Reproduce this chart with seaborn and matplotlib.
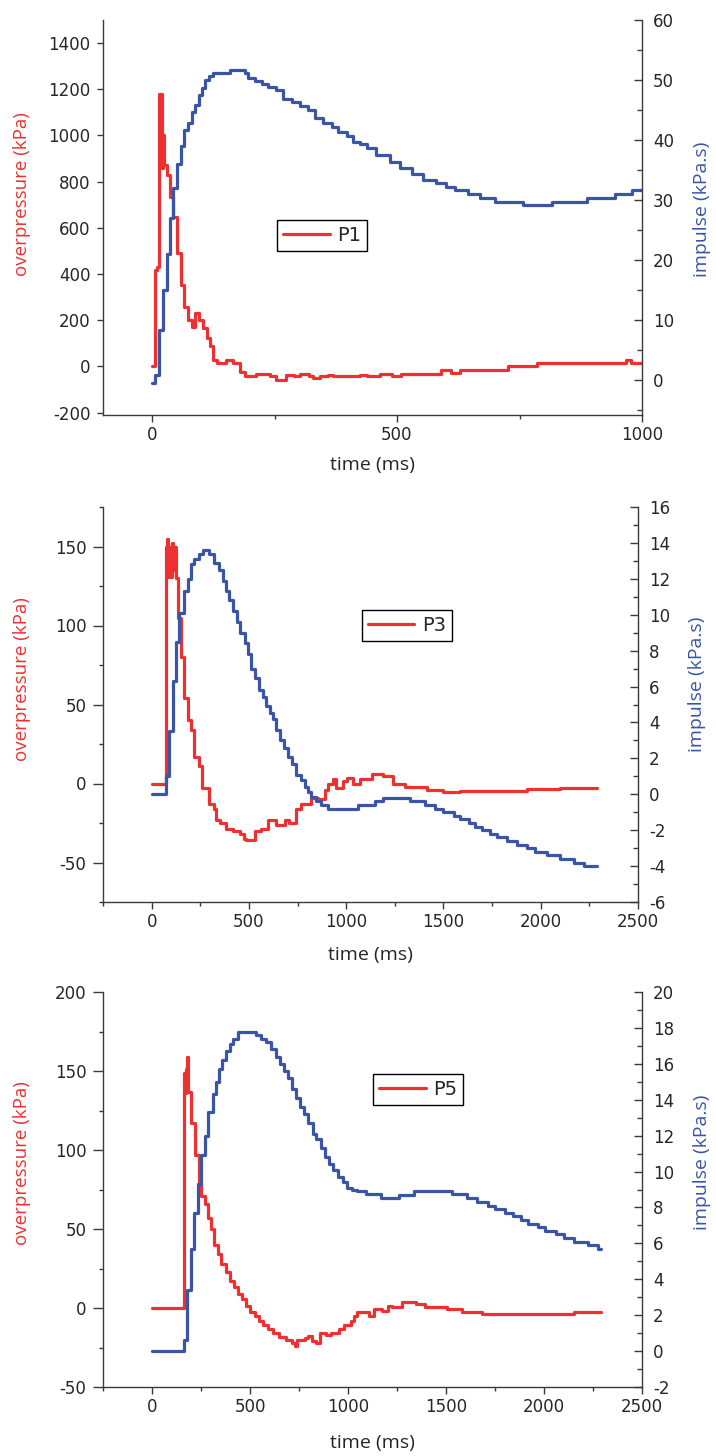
import seaborn as sns
import matplotlib.pyplot as plt
from matplotlib.ticker import MultipleLocator

sns.set_style('ticks')
plt.rcParams['font.family'] = ['DejaVu Sans']
plt.rcParams['axes.unicode_minus'] = False

RED = '#ee3030'
BLUE = '#3a55a6'
SPINE = '#3a3a3a'

# ---- P1: overpressure (kPa) and impulse (kPa.s) vs time (ms) ----
t1_p = [0, 6, 10, 15, 20, 22, 25, 30, 36, 42, 50, 59, 66, 74, 81, 88, 96, 105, 112, 119,
        125, 132, 152, 166, 180, 190, 213, 240, 254, 274, 290, 302, 320, 329, 343, 360, 370, 424, 438, 465,
        489, 509, 590, 611, 628, 727, 785, 968, 978, 1000]
p1 = [0, 418, 430, 1178, 860, 1004, 873, 830, 733, 649, 490, 353, 259, 202, 173, 231, 202, 166, 123, 87,
      29, 14, 29, 14, -22, -43, -33, -43, -58, -36, -43, -33, -43, -50, -43, -36, -43, -36, -43, -33,
      -43, -33, -14, -29, -14, 0, 14, 29, 14, 14]
t1_i = [0, 7, 14, 23, 30, 37, 43, 50, 59, 66, 73, 81, 88, 96, 103, 109, 117, 125, 159, 190,
        196, 210, 224, 237, 254, 268, 285, 302, 319, 332, 349, 367, 380, 397, 411, 424, 438, 458, 485, 506,
        530, 553, 580, 601, 618, 645, 669, 700, 758, 816, 887, 945, 979, 1000]
i1 = [-0.4, 0.8, 8.3, 15, 21, 27, 32, 36, 39, 41.6, 42.8, 44.6, 45.8, 47.5, 48.6, 50, 50.7, 51.1, 51.6, 51.1,
      50.4, 49.9, 49.3, 48.8, 48.3, 46.9, 46.4, 45.7, 45, 43.6, 42.8, 42.2, 41.4, 40.6, 39.7, 39.3, 38.6, 37.5, 36.4, 35.3,
      34.4, 33.3, 32.8, 32.1, 31.6, 31, 30.4, 29.7, 29.2, 29.7, 30.3, 31, 31.6, 31.6]

# ---- P3 ----
t3_p = [0, 74, 80, 86, 92, 98, 104, 110, 117, 125, 134, 151, 168, 186, 203, 220, 242, 259, 294, 323,
        332, 352, 383, 418, 452, 474, 486, 529, 564, 598, 637, 684, 706, 744, 770, 821, 856, 890, 907, 930,
        947, 985, 1002, 1036, 1070, 1131, 1191, 1243, 1302, 1414, 1500, 1586, 1758, 1930, 2101, 2287]
p3 = [0, 150, 155, 131, 150, 131, 152, 135, 150, 130, 105, 80, 54, 40, 34, 17, 11, -3, -13, -16,
      -23, -25, -29, -30, -32, -35, -36, -30, -29, -23, -26, -23, -25, -16, -13, -9, -10, -4, 0, 3,
      -3, 1.5, 3.6, 0, 2.7, 5.7, 4.5, 0, -2, -4, -5.5, -5, -5, -3.4, -2.7, -2.7]
t3_i = [0, 74, 91, 108, 125, 143, 165, 186, 203, 220, 241, 263, 297, 323, 345, 366, 383, 400, 418, 438,
        455, 478, 495, 512, 529, 552, 572, 589, 607, 624, 641, 662, 679, 701, 723, 744, 766, 787, 804, 821,
        847, 873, 907, 1062, 1148, 1191, 1328, 1406, 1457, 1500, 1552, 1586, 1629, 1663, 1698, 1741, 1775, 1827, 1878, 1930,
        1973, 2033, 2101, 2170, 2222, 2287]
i3 = [0, 1, 3.5, 6.3, 8.5, 10.1, 11.3, 12, 12.8, 13.1, 13.4, 13.6, 13.4, 12.9, 12.5, 11.9, 11.3, 10.8, 10.2, 9.6,
      9, 8.4, 7.8, 7, 6.5, 5.8, 5.4, 4.9, 4.5, 4.2, 3.6, 3, 2.6, 2.1, 1.7, 1.1, 0.8, 0.4, 0.15, -0.13,
      -0.4, -0.6, -0.8, -0.6, -0.4, -0.2, -0.4, -0.6, -0.8, -1.0, -1.2, -1.4, -1.6, -1.8, -2.0, -2.2, -2.4, -2.6, -2.8, -3.0,
      -3.2, -3.4, -3.6, -3.8, -4.0, -4.0]

# ---- P5 ----
t5_p = [0, 161, 166, 172, 180, 185, 199, 219, 238, 252, 268, 285, 301, 318, 338, 354, 376, 397, 417, 437,
        459, 480, 500, 525, 546, 566, 591, 616, 649, 682, 715, 728, 740, 781, 798, 815, 839, 856, 889, 914,
        955, 980, 1013, 1030, 1046, 1109, 1134, 1176, 1202, 1227, 1277, 1345, 1395, 1505, 1581, 1682, 1918, 2154, 2289]
p5 = [0, 149, 136, 151, 159, 137, 117, 97, 79, 71, 66, 57, 50, 40, 34, 28, 22.5, 17, 13, 9,
      5.7, 1.5, -2.7, -4.8, -8, -11, -13, -16, -18.5, -20, -22, -24, -20, -19, -18, -21, -22, -16, -17, -16,
      -13, -11, -8, -5, -2.7, -4.8, -0.6, -1.6, 1.5, 0.4, 4, 2.5, 0.4, -0.6, -2.7, -3.8, -3.8, -2.7, -2.7]
t5_i = [0, 161, 177, 199, 215, 235, 248, 268, 288, 310, 326, 343, 359, 376, 397, 414, 437, 533, 558, 583,
        608, 632, 654, 674, 695, 715, 737, 757, 778, 798, 820, 839, 861, 881, 902, 922, 947, 972, 997, 1022,
        1046, 1092, 1168, 1261, 1336, 1530, 1606, 1657, 1716, 1750, 1800, 1842, 1885, 1918, 1969, 2003, 2062, 2104, 2154, 2222,
        2276, 2289]
i5 = [0, 0.6, 3.4, 5.7, 7.7, 9.3, 10.9, 12, 13.3, 14.3, 15, 15.7, 16.2, 16.7, 17.1, 17.4, 17.8, 17.6, 17.4, 17.2,
      16.8, 16.4, 16, 15.6, 15.2, 14.6, 14.1, 13.6, 13.2, 12.7, 12.1, 11.8, 11.3, 10.8, 10.4, 10.1, 9.7, 9.4, 9.1, 9.0,
      8.9, 8.75, 8.5, 8.7, 8.9, 8.75, 8.5, 8.3, 8.1, 7.9, 7.7, 7.5, 7.3, 7.1, 6.9, 6.7, 6.5, 6.3, 6.1, 5.9,
      5.7, 5.7]

fig = plt.figure(figsize=(7.16, 14.56), dpi=100)
W, H = 716, 1456


def panel(left, right, top, bottom, tp, p, ti, imp, name, xlim, xticks, ylim_l, ystep_l, yminor_l,
          ylim_r, ystep_r, leg_xy, ylab_l, ylab_r, xlab_y, ltick):
    ax = fig.add_axes([left / W, 1 - bottom / H, (right - left) / W, (bottom - top) / H])
    sns.lineplot(x=tp, y=p, ax=ax, color=RED, lw=2.3, drawstyle='steps-post',
                 estimator=None, sort=False, label=name)
    if ax.get_legend():
        ax.get_legend().remove()
    ax2 = ax.twinx()
    sns.lineplot(x=ti, y=imp, ax=ax2, color=BLUE, lw=2.3, drawstyle='steps-post',
                 estimator=None, sort=False)

    ax.set_xlim(*xlim)
    ax.set_xticks(xticks)
    ax.xaxis.set_minor_locator(MultipleLocator(250))
    ax.set_ylim(*ylim_l)
    ax.yaxis.set_major_locator(MultipleLocator(ystep_l))
    if yminor_l:
        ax.yaxis.set_minor_locator(MultipleLocator(yminor_l))
    ax2.set_ylim(*ylim_r)
    ax2.yaxis.set_major_locator(MultipleLocator(ystep_r))
    ax2.yaxis.set_minor_locator(MultipleLocator(ystep_r / 2))

    for a in (ax, ax2):
        for s in a.spines.values():
            s.set_color(SPINE)
            s.set_linewidth(1.0)
        a.spines['top'].set_visible(False)
    ax.spines['right'].set_visible(False)
    ax2.spines['left'].set_visible(False)
    ax2.spines['bottom'].set_visible(False)

    ax.tick_params(axis='y', which='major', direction='out', length=ltick, width=1,
                   color=SPINE, labelsize=12, pad=5)
    ax.tick_params(axis='y', which='minor', direction='out', length=3, width=1, color=SPINE)
    ax.tick_params(axis='x', which='major', direction='out', length=5, width=1,
                   color=SPINE, labelsize=12, pad=3)
    ax.tick_params(axis='x', which='minor', direction='out', length=3, width=1, color=SPINE)
    ax2.tick_params(axis='y', which='major', direction='in', length=6, width=1,
                    color=SPINE, labelsize=12, pad=8)
    ax2.tick_params(axis='y', which='minor', direction='in', length=3.5, width=1, color=SPINE)

    ax.set_xlabel('time (ms)', fontsize=14, family='Open Sans')
    ax.xaxis.set_label_coords(0.5, xlab_y)
    ax.set_ylabel('overpressure (kPa)', fontsize=13.5, family='Open Sans', color=RED)
    ax.yaxis.set_label_coords(-0.134, ylab_l)
    ax2.set_ylabel('impulse (kPa.s)', fontsize=14, family='Open Sans', color=BLUE)
    ax2.yaxis.set_label_coords(1.094, ylab_r)

    line = ax.get_lines()[0]
    leg = ax2.legend([line], [name], loc='upper left', bbox_to_anchor=leg_xy,
                     fontsize=14, frameon=True, fancybox=False, borderaxespad=0,
                     handlelength=2.4, borderpad=0.3, handletextpad=0.4)
    leg.get_frame().set_edgecolor('black')
    leg.get_frame().set_linewidth(1.0)
    leg.get_frame().set_alpha(1)


panel(103, 642, 20, 415, t1_p, p1, t1_i, i1, 'P1', (-100, 1000), [0, 500, 1000],
      (-210, 1500), 200, None, (-5.8, 60), 10, (0.323, 0.494), 0.56, 0.52, -0.104, 4)
panel(103, 638, 507, 902, t3_p, p3, t3_i, i3, 'P3', (-250, 2500), [0, 500, 1000, 1500, 2000, 2500],
      (-75, 175), 50, 25, (-6, 16), 2, (0.484, 0.739), 0.565, 0.55, -0.111, 7)
panel(103, 642, 992, 1387, t5_p, p5, t5_i, i5, 'P5', (-250, 2500), [0, 500, 1000, 1500, 2000, 2500],
      (-50, 200), 50, 25, (-2, 20), 2, (0.501, 0.792), 0.567, 0.57, -0.119, 7)

fig.savefig('out.png', dpi=100)
